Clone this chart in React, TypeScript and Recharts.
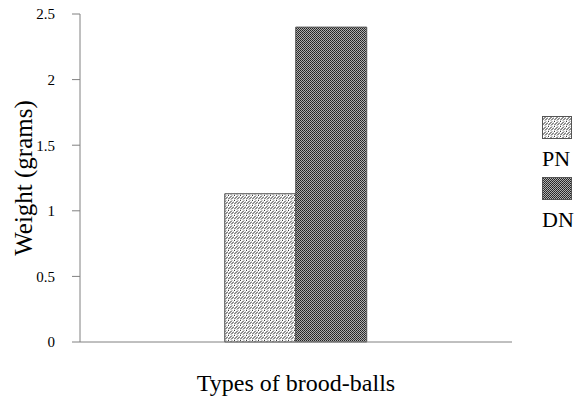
import { BarChart, Bar, XAxis, YAxis, Legend, Label } from 'recharts'

const categories = ['Brood-balls']
const pnValues = [1.13]
const dnValues = [2.4]
const yTicks = [0, 0.5, 1, 1.5, 2, 2.5]
const minorTicks = [0, 0.25, 0.5, 0.75, 1, 1.25, 1.5, 1.75, 2, 2.25, 2.5]
const seriesNames = ['PN', 'DN']
const xTitle = 'Types of brood-balls'
const yTitle = 'Weight (grams)'

const data = categories.map((c, i) => ({ name: c, PN: pnValues[i], DN: dnValues[i] }))

const FONT = '"Liberation Serif", "DejaVu Serif", serif'
const AXIS = '#808080'

const legendItems = [
  { name: seriesNames[0], fill: 'url(#patPN)' },
  { name: seriesNames[1], fill: 'url(#patDN)' },
]

function PatternLegend() {
  return (
    <svg width={50} height={125} style={{ display: 'block' }}>
      {legendItems.map((it, i) => (
        <g key={it.name} transform={`translate(2, ${i * 61})`}>
          <rect x={0.5} y={0.5} width={29} height={22} fill={it.fill} stroke="#555" />
          <text x={0} y={50} fontFamily={FONT} fontSize={22} fill="#000">{it.name}</text>
        </g>
      ))}
    </svg>
  )
}

const NoLabel = () => <g />

const XTitle = ({ viewBox }: any) => (
  <text
    x={viewBox.x + viewBox.width / 2}
    y={viewBox.y + viewBox.height - 15}
    textAnchor="middle"
    fontFamily={FONT}
    fontSize={24}
    fill="#000"
  >
    {xTitle}
  </text>
)

const YTitle = ({ viewBox }: any) => {
  const cx = viewBox.x + 23
  const cy = viewBox.y + viewBox.height / 2
  return (
    <text
      x={cx}
      y={cy}
      transform={`rotate(-90 ${cx} ${cy})`}
      textAnchor="middle"
      dominantBaseline="central"
      fontFamily={FONT}
      fontSize={25}
      fill="#000"
    >
      {yTitle}
    </text>
  )
}

export default function App() {
  return (
    <div style={{ position: 'absolute', left: 0, top: 0, background: '#fff' }}>
      <BarChart
        width={579}
        height={406}
        data={data}
        margin={{ top: 14, right: 27, bottom: 0, left: 0 }}
        barCategoryGap="33.5%"
        barGap={0}
      >
        <defs>
          <pattern id="patPN" patternUnits="userSpaceOnUse" width={6} height={5}>
            <rect width={6} height={5} fill="#fff" />
            <path d="M0,4.5 L4,0.5 M3,4.5 L6,1.5 M-1,1.5 L1,0" stroke="#222" strokeWidth={1} fill="none" />
          </pattern>
          <pattern id="patDN" patternUnits="userSpaceOnUse" width={2} height={2}>
            <rect width={2} height={2} fill="#b0b0b0" />
            <rect x={0} y={0} width={1} height={1} fill="#222" />
            <rect x={1} y={1} width={1} height={1} fill="#333" />
          </pattern>
        </defs>
        <XAxis
          dataKey="name"
          tick={false}
          tickLine={false}
          stroke={AXIS}
          height={64}
        >
          <Label content={XTitle} />
        </XAxis>
        <YAxis
          domain={[0, 2.5]}
          ticks={yTicks}
          tickSize={8}
          tickMargin={17}
          stroke={AXIS}
          width={80}
          tick={{ fontFamily: FONT, fontSize: 15, fill: '#000' }}
        >
          <Label content={YTitle} />
        </YAxis>
        <YAxis
          yAxisId="minor"
          domain={[0, 2.5]}
          ticks={minorTicks}
          mirror
          axisLine={false}
          tick={<NoLabel />}
          tickSize={6}
          stroke={AXIS}
        />
        <Legend
          layout="vertical"
          align="right"
          verticalAlign="middle"
          width={40}
          wrapperStyle={{ left: 540, top: 116, right: 'auto' }}
          content={() => <PatternLegend />}
        />
        <Bar dataKey="PN" name={seriesNames[0]} fill="url(#patPN)" stroke="#555" isAnimationActive={false} />
        <Bar dataKey="DN" name={seriesNames[1]} fill="url(#patDN)" stroke="#555" isAnimationActive={false} />
      </BarChart>
    </div>
  )
}
